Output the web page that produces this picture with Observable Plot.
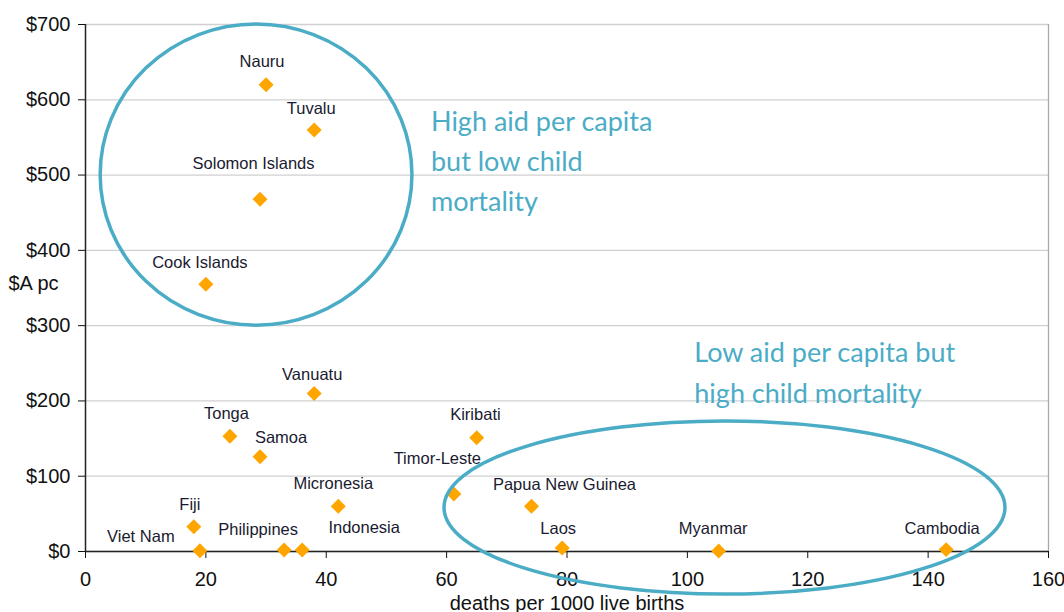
<!DOCTYPE html>
<html><head><meta charset="utf-8">
<script src="https://cdn.jsdelivr.net/npm/d3@7"></script>
<script src="https://cdn.jsdelivr.net/npm/@observablehq/plot@0.6"></script>
<style>
html,body{margin:0;padding:0;background:#fff;}
#chart{width:1064px;height:612px;overflow:hidden;}
</style></head><body><div id="chart"></div>
<script>
// ---- data ----
const countries = ["Nauru","Tuvalu","Solomon Islands","Cook Islands","Vanuatu","Tonga","Samoa","Kiribati","Timor-Leste","Micronesia","Indonesia","Philippines","Fiji","Viet Nam","Papua New Guinea","Laos","Myanmar","Cambodia"];
const mortality = [30, 38, 29, 20, 38, 24, 29, 65, 61.2, 42, 36, 33, 18, 19, 74.1, 79.2, 105.2, 143.0];
const aidPerCapita = [620, 560, 468, 355, 210, 153, 126, 151, 76.5, 60, 2, 2, 33, 1, 60, 4.5, 0.8, 2.5];
const xTicks = [0, 20, 40, 60, 80, 100, 120, 140, 160];
const yTicks = [0, 100, 200, 300, 400, 500, 600, 700];
const xLabel = "deaths per 1000 live births";
const yLabel = "$A pc";
const annotationTexts = ["High aid per capita\nbut low child\nmortality", "Low aid per capita but\nhigh child mortality"];
const annotationX = [57.4, 101.15];
const annotationY = [597, 289.2];
const ellipseCx = [28.42, 106.25];
const ellipseCy = [500, 57.8];
const ellipseRx = [25.9, 46.6];
const ellipseRy = [200, 114.9];

// label offsets (px) relative to each point
const labelOffsets = {
  "Nauru": [-4, -23], "Tuvalu": [-3, -21], "Solomon Islands": [-6.5, -35], "Cook Islands": [-6, -22],
  "Vanuatu": [-2, -19], "Tonga": [-3.5, -22.5], "Samoa": [21, -19], "Kiribati": [-1.3, -23],
  "Timor-Leste": [-16.5, -35], "Micronesia": [-5, -23], "Indonesia": [62, -22], "Philippines": [-26, -20.5],
  "Fiji": [-4, -22], "Viet Nam": [-59, -14.5], "Papua New Guinea": [33, -21.7], "Laos": [-4, -19.4],
  "Myanmar": [-5.5, -22], "Cambodia": [-4, -20.5]
};

const rows = countries.map((c, i) => ({country: c, x: mortality[i], y: aidPerCapita[i]}));
const notes = annotationTexts.map((t, i) => ({text: t, x: annotationX[i], y: annotationY[i]}));

const labelFont = "Liberation Sans, Arial, sans-serif";
const teal = "#4BACC6";

const labelMarks = rows.map(r => Plot.text([r], {
  x: "x", y: "y", text: "country",
  dx: labelOffsets[r.country][0], dy: labelOffsets[r.country][1],
  textAnchor: "middle", lineAnchor: "middle",
  fontSize: 16.5, fill: "#1a1a30", fontFamily: labelFont
}));

const plot = Plot.plot({
  width: 1064, height: 612,
  marginLeft: 85, marginRight: 16, marginTop: 24, marginBottom: 61,
  style: {fontFamily: labelFont, fontSize: "20px", color: "#111", background: "#fff", overflow: "visible"},
  x: {domain: [0, 160]},
  y: {domain: [0, 700]},
  marks: [
    Plot.ruleY(yTicks, {stroke: "#d0d0d0", strokeWidth: 1.3}),
    Plot.ruleX([160], {stroke: "#a8a8a8", strokeWidth: 1.3}),
    Plot.axisY({ticks: yTicks, tickFormat: d => "$" + d, tickSize: 7, tickPadding: 8, label: null, fontSize: 20}),
    Plot.axisX({ticks: xTicks, tickFormat: d => String(d), tickSize: 7, tickPadding: 13, fontSize: 20,
      label: xLabel, labelAnchor: "center", labelOffset: 58, labelArrow: "none"}),
    Plot.ruleX([0], {stroke: "#222", strokeWidth: 1.5}),
    Plot.ruleY([0], {stroke: "#222", strokeWidth: 1.5}),
    Plot.text([yLabel], {frameAnchor: "left", dx: -77, dy: -4, textAnchor: "start", fontSize: 20, fill: "#111"}),
    ...labelMarks,
    Plot.dot(rows, {x: "x", y: "y", symbol: "diamond2", r: 6.75, fill: "#FFA500", stroke: "none"}),
    Plot.text(notes, {x: "x", y: "y", text: "text", textAnchor: "start", lineAnchor: "top",
      fontSize: 27, lineHeight: 1.49, fill: teal, fontFamily: "Lato, Open Sans, sans-serif"})
  ]
});

// ellipse annotations through the plot's own scales
const sx = plot.scale("x"), sy = plot.scale("y");
const ell = ellipseCx.map((cx, i) => ({cx, cy: ellipseCy[i], rx: ellipseRx[i], ry: ellipseRy[i]}));
d3.select(plot).append("g")
  .selectAll("ellipse").data(ell).join("ellipse")
  .attr("cx", d => sx.apply(d.cx))
  .attr("cy", d => sy.apply(d.cy))
  .attr("rx", d => Math.abs(sx.apply(d.cx + d.rx) - sx.apply(d.cx)))
  .attr("ry", d => Math.abs(sy.apply(d.cy + d.ry) - sy.apply(d.cy)))
  .attr("fill", "none").attr("stroke", teal).attr("stroke-width", 3.5);

document.getElementById("chart").appendChild(plot);
</script></body></html>
